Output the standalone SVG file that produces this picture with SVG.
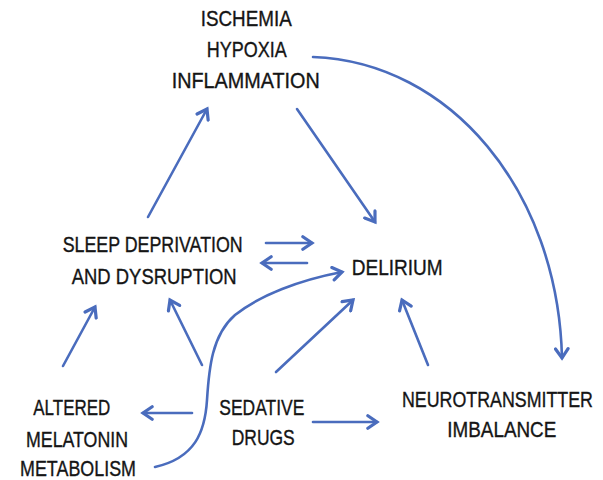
<svg xmlns="http://www.w3.org/2000/svg" width="603" height="480" viewBox="0 0 603 480">
<style>
text{font-family:"Liberation Sans",Arial,sans-serif;font-size:21.5px;fill:#151515;stroke:#151515;stroke-width:0.35;}
.c{fill:none;stroke:#4a6cbd;stroke-width:2.6;stroke-linecap:round;}
</style>
<defs>
<marker id="ah" markerUnits="userSpaceOnUse" markerWidth="16" markerHeight="16" refX="10" refY="7" orient="auto" viewBox="0 0 14 14">
<path d="M2,1.5 L10,7 L2,12.5" fill="none" stroke="#4a6cbd" stroke-width="2.8" stroke-linecap="round" stroke-linejoin="miter"/>
</marker>
</defs>
<rect width="603" height="480" fill="#ffffff"/>
<g id="connectors">
<path class="c" d="M148,217 L207,109" marker-end="url(#ah)"/>
<path class="c" d="M297,109 L375,222" marker-end="url(#ah)"/>
<path class="c" d="M313,57 C450,62 558,190 562,358" marker-end="url(#ah)"/>
<path class="c" d="M266,243 L312,243" marker-end="url(#ah)"/>
<path class="c" d="M307,263 L262,263" marker-end="url(#ah)"/>
<path class="c" d="M155,467 C195,458 205,432 207,400 C209,368 212,335 235,315 C260,295 300,280 342,272" marker-end="url(#ah)"/>
<path class="c" d="M63,366 L95,307" marker-end="url(#ah)"/>
<path class="c" d="M202,365 L170,300" marker-end="url(#ah)"/>
<path class="c" d="M276,372 L353,300" marker-end="url(#ah)"/>
<path class="c" d="M428,365 L402,300" marker-end="url(#ah)"/>
<path class="c" d="M192,413 L143,413" marker-end="url(#ah)"/>
<path class="c" d="M313,422 L377,422" marker-end="url(#ah)"/>
</g>
<g id="ischemia">
<text x="200.7" y="26" textLength="91" lengthAdjust="spacingAndGlyphs">ISCHEMIA</text>
<text x="206.7" y="57" textLength="80" lengthAdjust="spacingAndGlyphs">HYPOXIA</text>
<text x="171.7" y="88" textLength="148" lengthAdjust="spacingAndGlyphs">INFLAMMATION</text>
</g>
<g id="sleep">
<text x="62.7" y="252" textLength="180" lengthAdjust="spacingAndGlyphs">SLEEP DEPRIVATION</text>
<text x="71.7" y="284" textLength="165" lengthAdjust="spacingAndGlyphs">AND DYSRUPTION</text>
</g>
<g id="delirium">
<text x="351.7" y="275" textLength="91" lengthAdjust="spacingAndGlyphs">DELIRIUM</text>
</g>
<g id="melatonin">
<text x="33.3" y="415" textLength="77" lengthAdjust="spacingAndGlyphs">ALTERED</text>
<text x="26" y="447" textLength="102" lengthAdjust="spacingAndGlyphs">MELATONIN</text>
<text x="20" y="476" textLength="116" lengthAdjust="spacingAndGlyphs">METABOLISM</text>
</g>
<g id="sedative">
<text x="219.3" y="415" textLength="85" lengthAdjust="spacingAndGlyphs">SEDATIVE</text>
<text x="231.7" y="445" textLength="63" lengthAdjust="spacingAndGlyphs">DRUGS</text>
</g>
<g id="neuro">
<text transform="translate(402,407) scale(1,1.16)" x="0" y="0" style="font-size:18.5px;stroke-width:0.3" textLength="191" lengthAdjust="spacingAndGlyphs">NEUROTRANSMITTER</text>
<text x="447.3" y="437" textLength="109" lengthAdjust="spacingAndGlyphs">IMBALANCE</text>
</g>
</svg>
